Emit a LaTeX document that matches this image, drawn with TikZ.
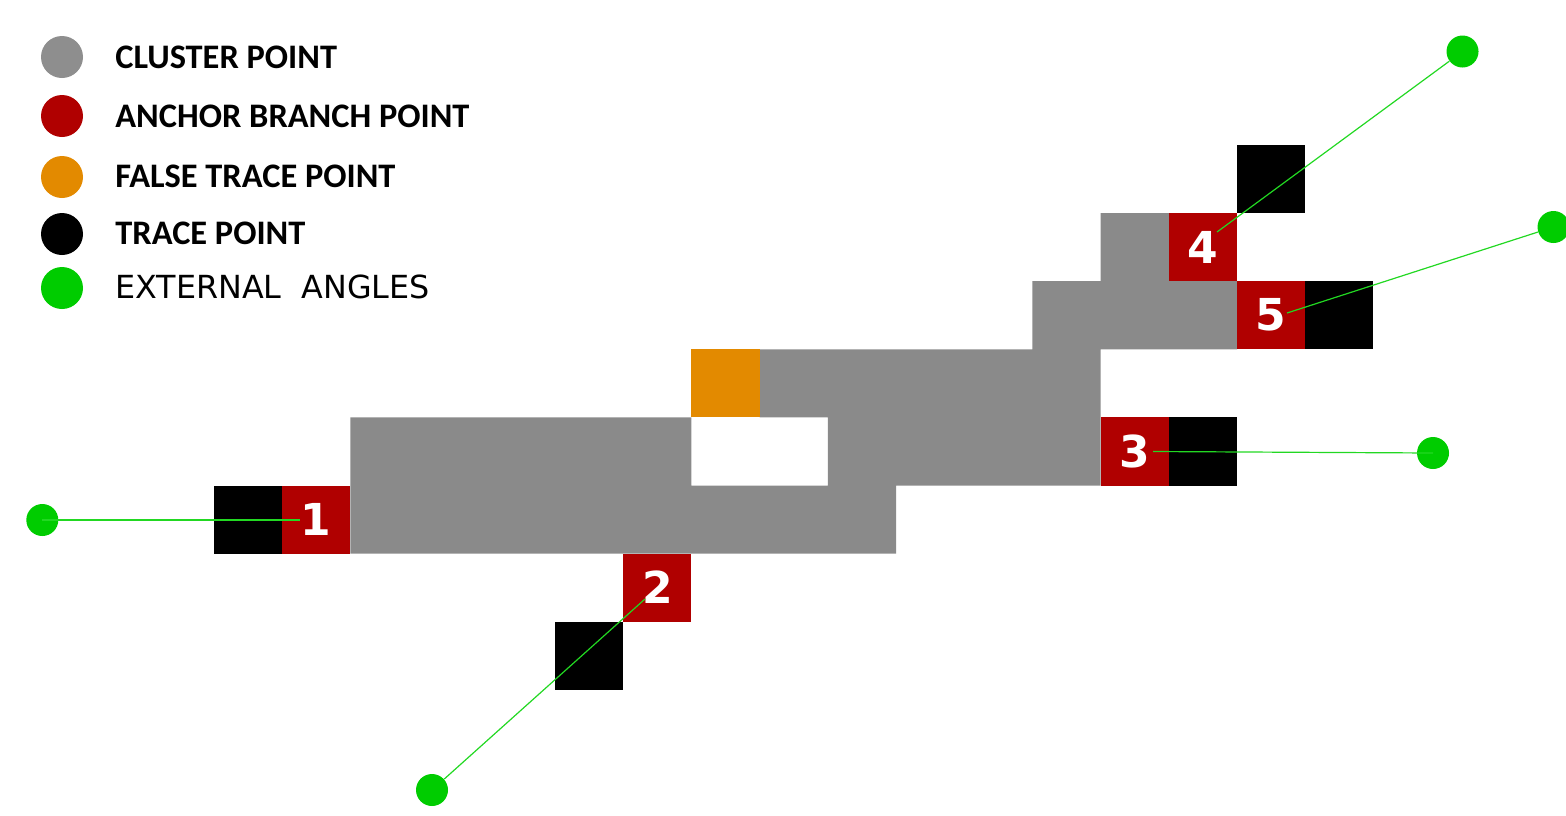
\documentclass[tikz,border=0pt]{standalone}
\usepackage{fontspec}
\newfontfamily\legboldfont{Carlito}[FakeStretch=1.0]
\newfontfamily\legregfont{DejaVu Sans}
\newfontfamily\digitfont{DejaVu Sans Bold}
\definecolor{cgray}{HTML}{8A8A8A}
\definecolor{lgray}{HTML}{8E8E8E}
\definecolor{cred}{HTML}{B00000}
\definecolor{corange}{HTML}{E38A00}
\definecolor{cgreen}{HTML}{00CC00}
\definecolor{lgreen}{HTML}{22D822}
\begin{document}
\begin{tikzpicture}[x=0.5pt,y=-0.5pt,
  cellbox/.style={rectangle,minimum width=34.1pt,minimum height=34.05pt,inner sep=0pt,outer sep=0pt},
  blackcell/.style={cellbox,fill=black},
  redcell/.style={cellbox,fill=cred,text=white,font=\digitfont\fontsize{22pt}{22pt}\selectfont},
  orangecell/.style={cellbox,fill=corange},
  gdot/.style={circle,fill=cgreen,minimum size=16pt,inner sep=0pt},
  legdot/.style={circle,minimum size=21pt,inner sep=0pt},
  legtext/.style={anchor=base west,inner sep=0pt,font=\legboldfont\bfseries\fontsize{17.2pt}{20pt}\selectfont},
  legtextreg/.style={anchor=base west,inner sep=0pt,font=\legregfont\fontsize{15.9pt}{19pt}\selectfont},
  angleline/.style={draw=lgreen,line width=0.6pt}]
\useasboundingbox (0,0) rectangle (1566,815);
% cluster region
\fill[cgray] (1100.6,213.1) rectangle (1168.8,281.2)
  (1032.4,281.2) rectangle (1237,349.3)
  (759.6,349.3) rectangle (1100.6,417.4)
  (350.4,417.4) rectangle (691.4,485.5)
  (827.8,417.4) rectangle (1100.6,485.5)
  (350.4,485.5) rectangle (896,553.6);
% false trace point
\node[orangecell] (f1) at (725.5,383.35) {};
% trace points
\node[blackcell] (t4) at (1271.1,179.05) {};
\node[blackcell] (t5) at (1339.3,315.25) {};
\node[blackcell] (t3) at (1202.9,451.45) {};
\node[blackcell] (t1) at (248.1,519.55) {};
\node[blackcell] (t2) at (589.1,655.75) {};
% anchor branch points
\node[redcell] (a4) at (1202.9,247.15) {4};
\node[redcell] (a5) at (1271.1,315.25) {5};
\node[redcell] (a3) at (1134.7,451.45) {3};
\node[redcell] (a1) at (316.3,519.55) {1};
\node[redcell] (a2) at (657.3,587.65) {2};
% external angle dots
\node[gdot] (g4) at (1462.5,51.5) {};
\node[gdot] (g5) at (1553.5,227) {};
\node[gdot] (g3) at (1433,453) {};
\node[gdot] (g1) at (42.3,520) {};
\node[gdot] (g2) at (432,790) {};
\coordinate (e4) at (1217,232);
\coordinate (e5) at (1287,313);
\coordinate (e3) at (1153,451.5);
\coordinate (e1) at (300,520);
\coordinate (e2) at (645,599);
\draw[angleline] (g4) -- (e4);
\draw[angleline] (g5) -- (e5);
\draw[angleline] (g3.center) -- (e3);
\draw[angleline] (g1.center) -- (e1);
\draw[angleline] (g2) -- (e2);
% legend
\node[legdot,fill=lgray] (lc) at (62,57) {};
\node[legdot,fill=cred] (la) at (62,116) {};
\node[legdot,fill=corange] (lf) at (62,177) {};
\node[legdot,fill=black] (lt) at (62,234) {};
\node[legdot,fill=cgreen] (le) at (62,288) {};
\node[legtext] (lct) at (115,68) {CLUSTER POINT};
\node[legtext] (lat) at (115,127) {ANCHOR BRANCH POINT};
\node[legtext] (lft) at (115,187) {FALSE TRACE POINT};
\node[legtext] (ltt) at (115,244) {TRACE POINT};
\node[legtextreg] (let) at (115,298) {EXTERNAL\ \ ANGLES};
\end{tikzpicture}
\end{document}
